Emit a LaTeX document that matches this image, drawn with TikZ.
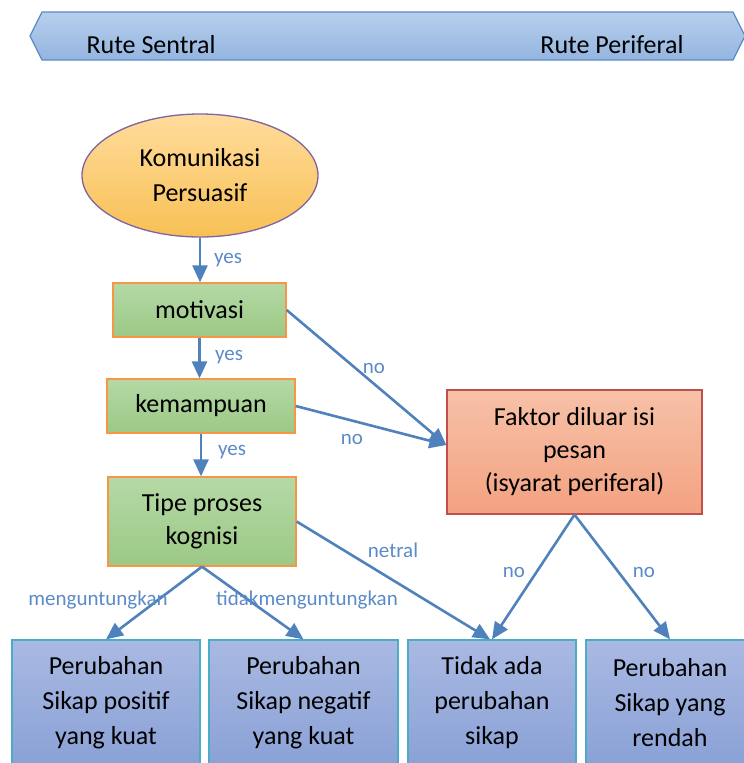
\documentclass[tikz,border=0pt]{standalone}
\usepackage{fontspec}
\setmainfont{Carlito}
\usetikzlibrary{shapes.geometric,arrows.meta}
\definecolor{arr}{HTML}{4F81BD}
\definecolor{lbl}{HTML}{5A8AC8}
\definecolor{bnTop}{HTML}{B7CFEC}
\definecolor{bnBot}{HTML}{94B5E0}
\definecolor{bnLine}{HTML}{5B8BC6}
\definecolor{elTop}{HTML}{FFDC9C}
\definecolor{elBot}{HTML}{F8C055}
\definecolor{elLine}{HTML}{8064A2}
\definecolor{grTop}{HTML}{B5D9A6}
\definecolor{grBot}{HTML}{9BC985}
\definecolor{grLine}{HTML}{F79646}
\definecolor{rdTop}{HTML}{F7C1A8}
\definecolor{rdBot}{HTML}{F3A281}
\definecolor{rdLine}{HTML}{C0504D}
\definecolor{blTop}{HTML}{A9B9E2}
\definecolor{blBot}{HTML}{8AA1D6}
\definecolor{blLine}{HTML}{4BACC6}
\begin{document}
\begin{tikzpicture}[x=1pt,y=-1pt,
  conn/.style={draw=arr,line width=2.6pt,-{Triangle[length=17pt,width=15pt]}},
  lab/.style={text=lbl,font=\fontsize{21}{25}\selectfont,inner sep=0pt},
  bannertext/.style={font=\fontsize{26}{30}\selectfont,anchor=base,inner sep=0pt},
  greenbox/.style={rectangle,draw=grLine,line width=1.3pt,top color=grTop,bottom color=grBot,
    inner sep=0pt,align=center,font=\fontsize{26}{33}\selectfont},
  redbox/.style={rectangle,draw=rdLine,line width=1.3pt,top color=rdTop,bottom color=rdBot,
    inner sep=0pt,align=center,font=\fontsize{26}{33}\selectfont},
  bluebox/.style={rectangle,draw=blLine,line width=1.3pt,top color=blTop,bottom color=blBot,
    inner sep=0pt,align=center,font=\fontsize{26}{35}\selectfont,minimum height=126pt},
  ellbox/.style={ellipse,draw=elLine,line width=1.3pt,top color=elTop,bottom color=elBot,
    inner sep=0pt,align=center,font=\fontsize{26}{35}\selectfont,minimum width=236pt,minimum height=123pt}
]
\useasboundingbox (0,0) rectangle (744,763);
% banner
\path[draw=bnLine,line width=1.2pt,top color=bnTop,bottom color=bnBot]
  (30,36) -- (42,12) -- (733,12) -- (745,36) -- (733,60) -- (42,60) -- cycle;
\node[bannertext] (rs) at (151,53) {Rute Sentral};
\node[bannertext] (rp) at (612,53) {Rute Periferal};
% nodes
\node[ellbox] (kom) at (200,175.5) {Komunikasi\\Persuasif};
\node[greenbox,minimum width=173pt,minimum height=54pt] (mot) at (199.5,310) {motivasi};
\node[greenbox,minimum width=188pt,minimum height=54pt] (kem) at (201,406) {kemampuan};
\node[greenbox,minimum width=188pt,minimum height=89pt] (tip) at (202,521.5) {Tipe proses\\kognisi};
\node[redbox,minimum width=255pt,minimum height=124pt] (fak) at (574.5,452) {Faktor diluar isi\\pesan\\(isyarat periferal)};
\node[bluebox,minimum width=188pt] (b1) at (106,703) {Perubahan\\Sikap positif\\yang kuat};
\node[bluebox,minimum width=189pt] (b2) at (303.5,703) {Perubahan\\Sikap negatif\\yang kuat};
\node[bluebox,minimum width=168pt] (b3) at (492,703) {Tidak ada\\perubahan\\sikap};
\node[bluebox,minimum width=168pt] (b4) at (670,703) {Perubahan\\Sikap yang\\rendah};
\coordinate (fin) at ([yshift=7pt]fak.west);
% connectors
\draw[conn] (kom.south) -- (kom.south |- mot.north);
\draw[conn] (mot.south) -- (mot.south |- kem.north);
\draw[conn] (kem.south) -- (kem.south |- tip.north);
\draw[conn] (mot.east) -- (fin);
\draw[conn] (kem.east) -- (fin);
\draw[conn] (tip.east) -- ([xshift=-2pt]b3.north);
\draw[conn] (tip.south) -- (b1.north);
\draw[conn] (tip.south) -- (b2.north);
\draw[conn] (fak.south) -- (b3.north);
\draw[conn] (fak.south) -- (b4.north);
% labels
\node[lab] (l1) at (228,260) {yes};
\node[lab] (l2) at (229,357) {yes};
\node[lab] (l3) at (232,452) {yes};
\node[lab] (l4) at (374,368) {no};
\node[lab] (l5) at (352,439) {no};
\node[lab] (l6) at (393,550) {netral};
\node[lab] (l7) at (98,600) {menguntungkan};
\node[lab] (l8) at (307,600) {tidakmenguntungkan};
\node[lab] (l9) at (514,572) {no};
\node[lab] (l10) at (644,572) {no};
\end{tikzpicture}
\end{document}
